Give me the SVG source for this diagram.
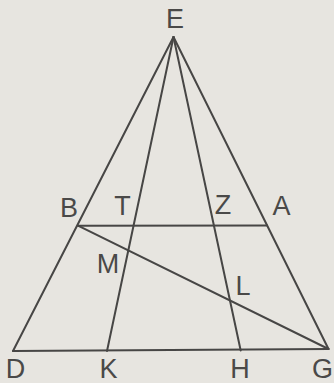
<svg xmlns="http://www.w3.org/2000/svg" width="334" height="383" viewBox="0 0 334 383">
<style>
.ln{stroke:#474645;stroke-width:2;fill:none;stroke-linecap:round}
.lb{font-family:"Liberation Sans",Arial,sans-serif;font-size:27px;fill:#4a4948;text-anchor:middle}
</style>
<rect width="334" height="383" fill="#e7e5e0"/>
<g id="connectors">
<line class="ln" x1="173.5" y1="37" x2="13" y2="351"/>
<line class="ln" x1="173.5" y1="37" x2="328.5" y2="349"/>
<line class="ln" x1="173.5" y1="37" x2="107" y2="351"/>
<line class="ln" x1="173.5" y1="37" x2="240.7" y2="350.5"/>
<line class="ln" x1="13" y1="351" x2="328.5" y2="349"/>
<line class="ln" x1="78" y1="225.7" x2="267" y2="225.5"/>
<line class="ln" x1="78" y1="225.7" x2="328.5" y2="349"/>
</g>
<g id="E"><text class="lb" x="175" y="28">E</text></g>
<g id="B"><text class="lb" x="69" y="217">B</text></g>
<g id="T"><text class="lb" x="122.5" y="215">T</text></g>
<g id="Z"><text class="lb" x="223" y="214">Z</text></g>
<g id="A"><text class="lb" x="281.5" y="215">A</text></g>
<g id="M"><text class="lb" x="108" y="273">M</text></g>
<g id="L"><text class="lb" x="243" y="295">L</text></g>
<g id="D"><text class="lb" x="15.5" y="378">D</text></g>
<g id="K"><text class="lb" x="108.5" y="378">K</text></g>
<g id="H"><text class="lb" x="240" y="378">H</text></g>
<g id="G"><text class="lb" x="333" y="378" style="text-anchor:end">G</text></g>
</svg>
